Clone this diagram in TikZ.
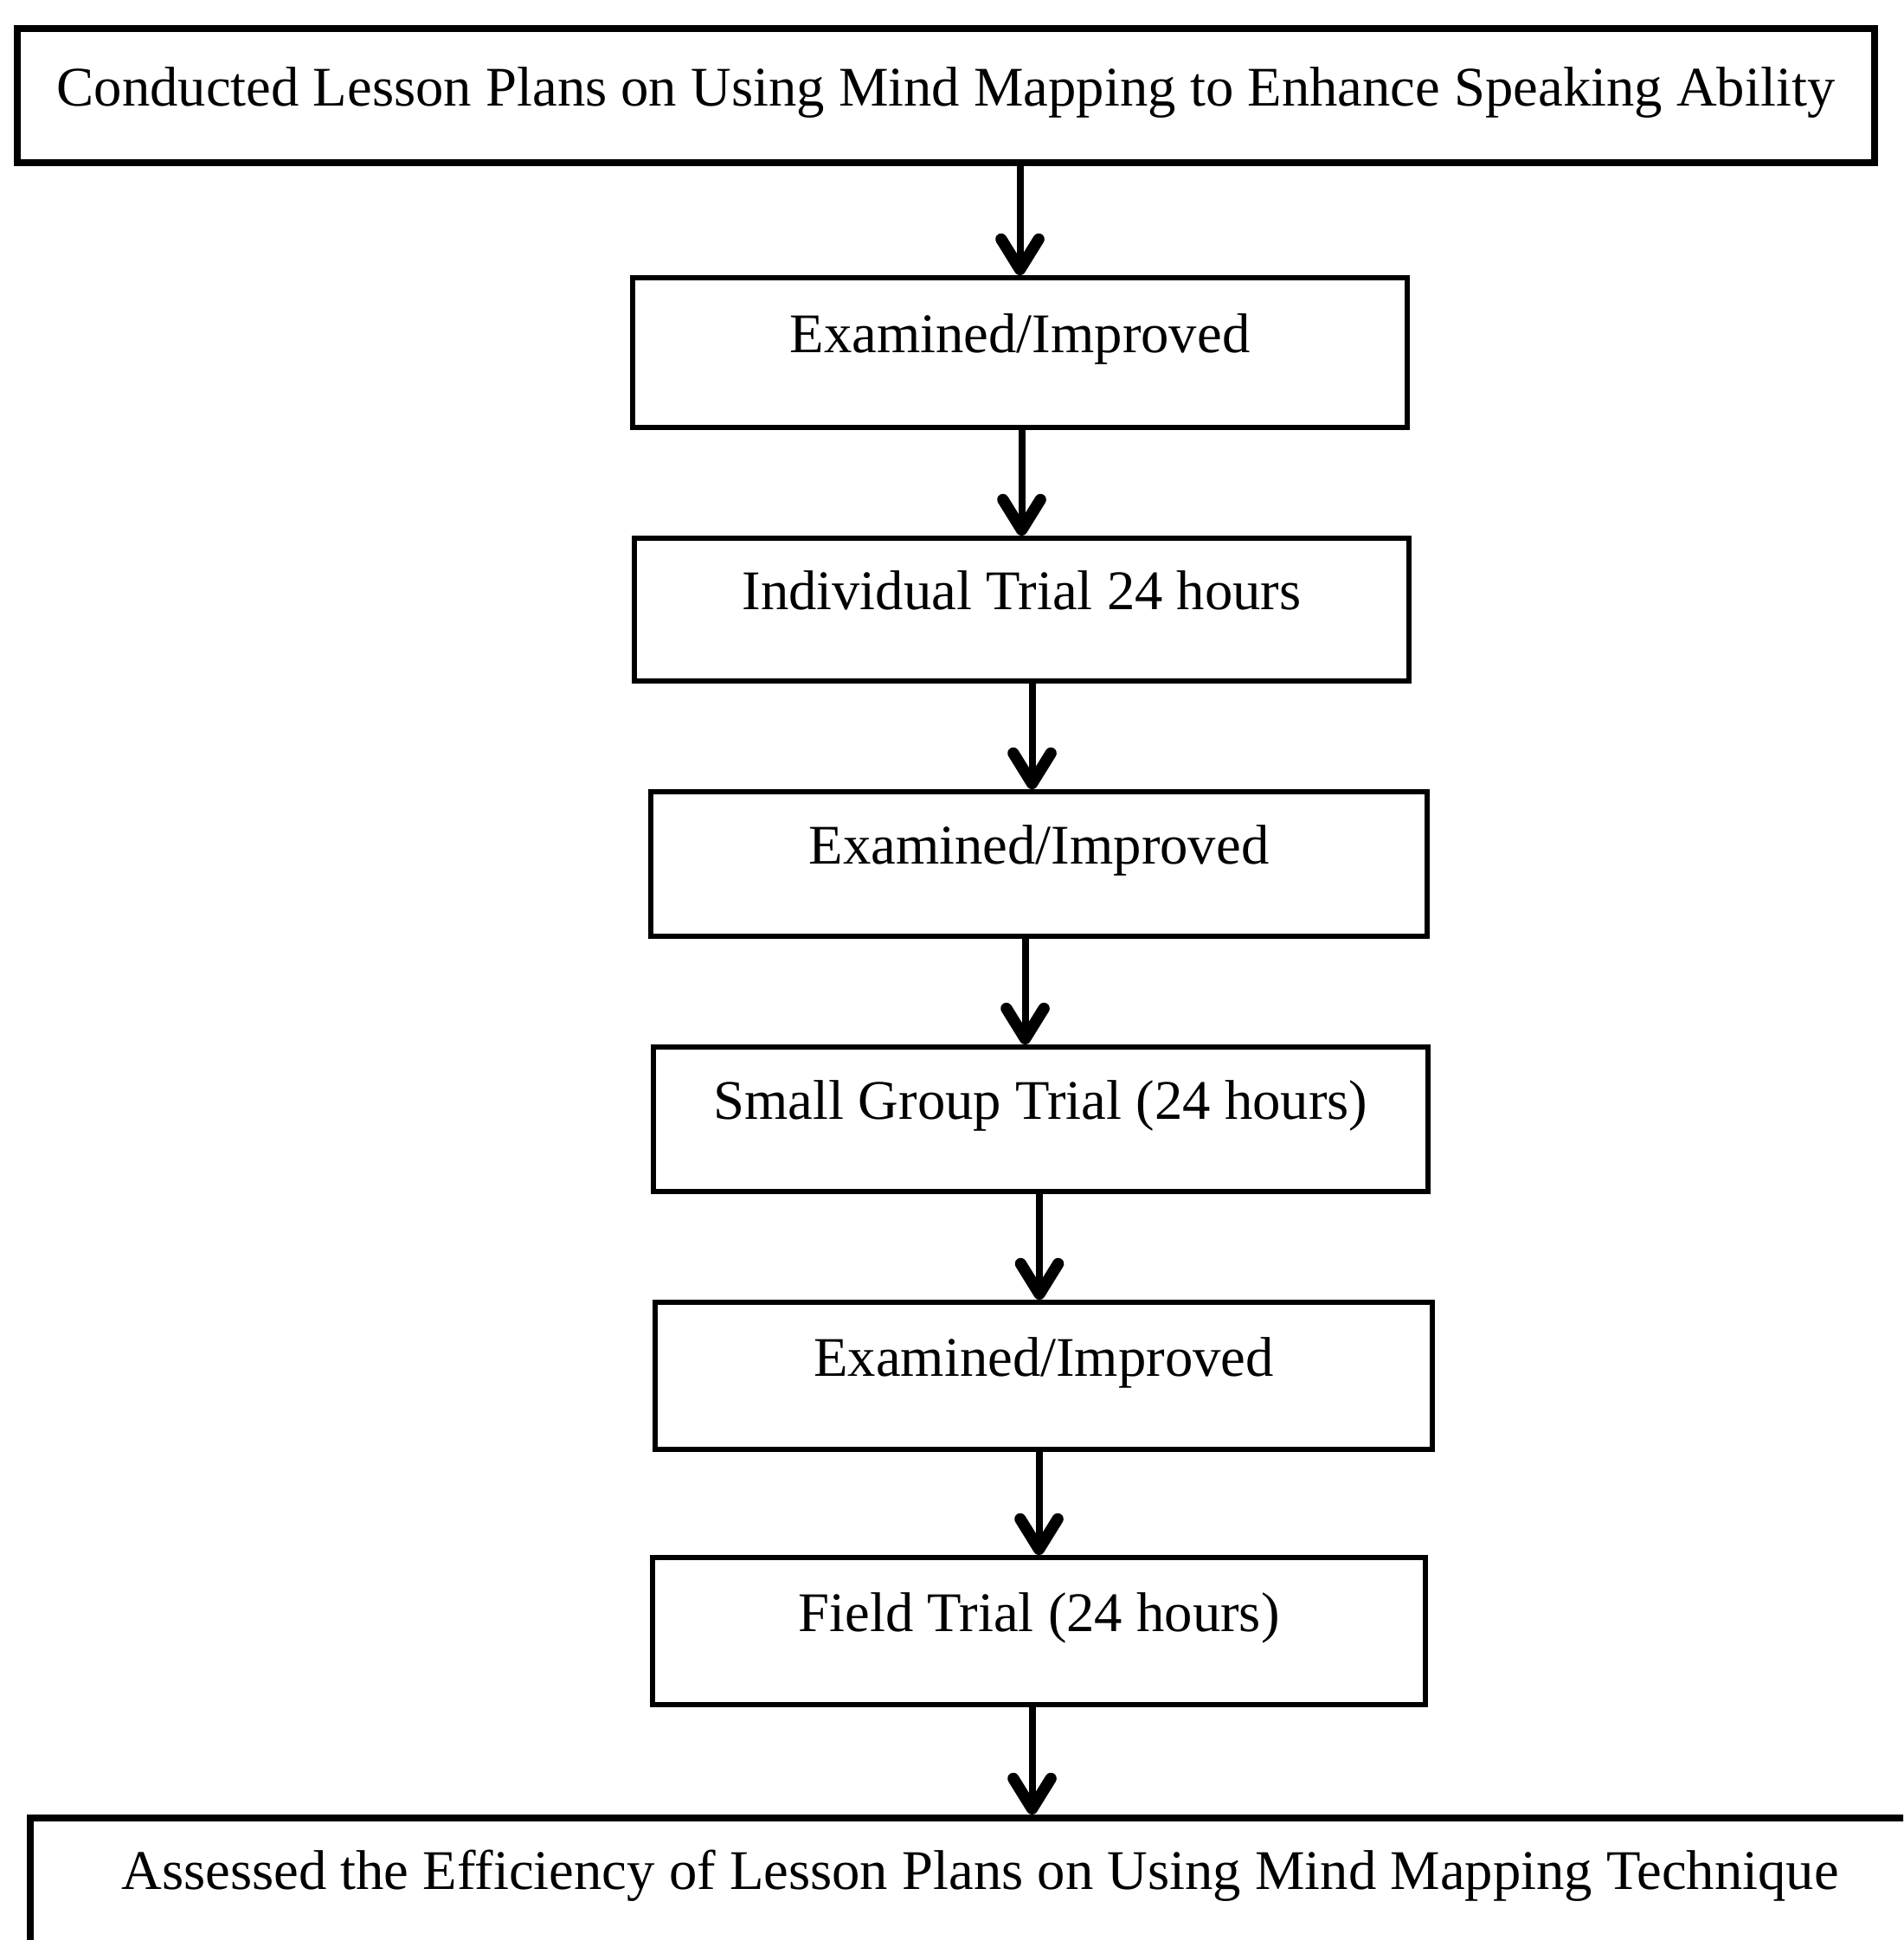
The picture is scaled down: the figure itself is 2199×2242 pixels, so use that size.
\documentclass[tikz,border=0pt]{standalone}
\usepackage{fontspec}
\setmainfont{Liberation Serif}
\usetikzlibrary{arrows.meta,calc}
\begin{document}
\begin{tikzpicture}[x=0.3pt,y=-0.3pt,
  box/.style={draw,line width=1.75pt,inner sep=0pt,
    font=\fontsize{19.4pt}{23pt}\selectfont,text height=8pt,text depth=8pt},
  endbox/.style={box,line width=2.4pt},
  arr/.style={line width=2.4pt,
    -{Straight Barb[length=10.5pt,width=13pt,line width=4pt,round]}}]
\useasboundingbox (0,0) rectangle (2199,2242);
\clip (0,0) rectangle (2199,2242);
\fill[white] (0,0) rectangle (2199,2242);

% process boxes, top to bottom
\node[endbox,minimum width=643.8pt,minimum height=46.5pt,text height=13.5pt,text depth=6pt]
  (plan) at (1093,110.5) {Conducted Lesson Plans on Using Mind Mapping to Enhance Speaking Ability};
\node[box,minimum width=268.5pt,minimum height=51.9pt] (exA) at (1178.5,407.5) {Examined/Improved};
\node[box,minimum width=268.5pt,minimum height=49.5pt] (indiv) at (1180.5,704.5) {Individual Trial 24 hours};
\node[box,minimum width=269.1pt,minimum height=50.1pt] (exB) at (1200.5,998.5) {Examined/Improved};
\node[box,minimum width=268.5pt,minimum height=50.1pt] (small) at (1202.5,1293.5) {Small Group Trial (24 hours)};
\node[box,minimum width=269.4pt,minimum height=51pt] (exC) at (1206,1590) {Examined/Improved};
\node[box,minimum width=267.9pt,minimum height=51pt] (field) at (1200.5,1885) {Field Trial (24 hours)};
\node[endbox,minimum width=658.5pt,minimum height=49.2pt]
  (assess) at (1132.5,2183) {Assessed the Efficiency of Lesson Plans on Using Mind Mapping Technique};

% connectors
\draw[arr] (exA.north |- plan.south) -- (exA.north);
\draw[arr] (indiv.north |- exA.south) -- (indiv.north);
\draw[arr] ($(exB.north |- indiv.south)+(-8,0)$) -- ($(exB.north)+(-8,0)$);
\draw[arr] ($(small.north |- exB.south)+(-18,0)$) -- ($(small.north)+(-18,0)$);
\draw[arr] ($(exC.north |- small.south)+(-5,0)$) -- ($(exC.north)+(-5,0)$);
\draw[arr] (field.north |- exC.south) -- (field.north);
\draw[arr] ($(field.south)+(-8,0)$) -- ($(field.south |- assess.north)+(-8,0)$);
\end{tikzpicture}
\end{document}
